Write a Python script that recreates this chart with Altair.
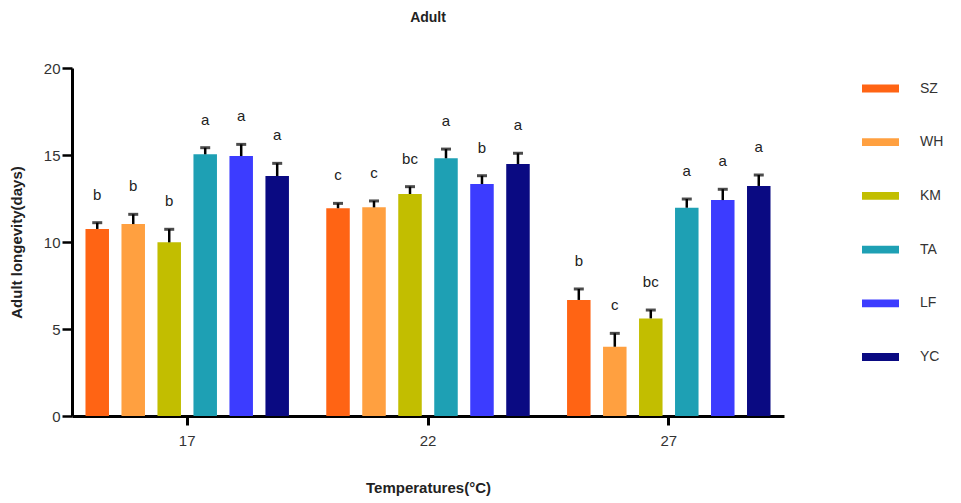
import altair as alt
import pandas as pd

temps = ["17", "22", "27"]
series = ["SZ", "WH", "KM", "TA", "LF", "YC"]
colors = ["#FF6414", "#FFA040", "#C2BE00", "#1EA0B4", "#3C3CFF", "#0A0A82"]

# mean adult longevity (days), per series, for temps 17, 22, 27
means = {
    "SZ": [10.75, 11.94, 6.67],
    "WH": [11.03, 11.99, 3.98],
    "KM": [9.98, 12.76, 5.61],
    "TA": [15.04, 14.81, 11.97],
    "LF": [14.94, 13.33, 12.41],
    "YC": [13.79, 14.48, 13.22],
}
# standard errors
errs = {
    "SZ": [0.36, 0.28, 0.63],
    "WH": [0.56, 0.37, 0.77],
    "KM": [0.75, 0.42, 0.48],
    "TA": [0.38, 0.53, 0.50],
    "LF": [0.67, 0.48, 0.62],
    "YC": [0.73, 0.62, 0.63],
}
letters = {
    "SZ": ["b", "c", "b"],
    "WH": ["b", "c", "c"],
    "KM": ["b", "bc", "bc"],
    "TA": ["a", "a", "a"],
    "LF": ["a", "b", "a"],
    "YC": ["a", "a", "a"],
}

rows = []
for s in series:
    for i, t in enumerate(temps):
        m = means[s][i]
        e = errs[s][i]
        rows.append({"temp": t, "series": s, "mean": m, "upper": m + e, "letter": letters[s][i]})
df = pd.DataFrame(rows)

FONT = "Liberation Sans"

x_enc = alt.X(
    "temp:N",
    sort=temps,
    scale=alt.Scale(paddingInner=0.155, paddingOuter=0.056),
    axis=alt.Axis(
        title="Temperatures(°C)",
        labelAngle=0,
        labelFontSize=15,
        labelColor="#333333",
        labelPadding=8,
        tickSize=9,
        tickWidth=3,
        tickColor="black",
        domainColor="black",
        domainWidth=3,
        titleFontSize=15,
        titleFontWeight="bold",
        titleColor="#222222",
        titlePadding=32,
        labelFont=FONT,
        titleFont=FONT,
    ),
)
xo_enc = alt.XOffset(
    "series:N", sort=series, scale=alt.Scale(paddingInner=0.347, paddingOuter=0)
)

base = alt.Chart(df)

bars = base.mark_bar(stroke=None).encode(
    x=x_enc,
    xOffset=xo_enc,
    y=alt.Y(
        "mean:Q",
        scale=alt.Scale(domain=[0, 20], nice=False),
        axis=alt.Axis(
            title="Adult longevity(days)",
            values=[0, 5, 10, 15, 20],
            grid=False,
            labelFontSize=15,
            labelColor="#333333",
            labelPadding=2,
            tickSize=10,
            tickWidth=2.5,
            tickColor="black",
            domainColor="black",
            domainWidth=3,
            titleFontSize=15,
            titleFontWeight="bold",
            titleColor="#222222",
            titlePadding=19,
            labelFont=FONT,
            titleFont=FONT,
        ),
    ),
    fill=alt.Fill(
        "series:N",
        sort=series,
        scale=alt.Scale(domain=series, range=colors),
        legend=alt.Legend(
            title=None,
            orient="none",
            legendX=790,
            legendY=2,
            symbolType="M-1,-0.21H1V0.21H-1Z",
            symbolSize=1369,
            symbolStrokeWidth=0,
            symbolOpacity=1,
            labelFontSize=14,
            labelColor="#333333",
            labelFont=FONT,
            labelOffset=21,
            rowPadding=27.7,
            padding=0,
        ),
    ),
)

stems = base.mark_rule(color="black", strokeWidth=2.5).encode(
    x=alt.X("temp:N", sort=temps),
    xOffset=xo_enc,
    y="mean:Q",
    y2="upper:Q",
)

caps = base.mark_tick(color="black", thickness=3, size=10).encode(
    x=alt.X("temp:N", sort=temps),
    xOffset=xo_enc,
    y="upper:Q",
)

labels = base.mark_text(
    dy=-23, baseline="alphabetic", fontSize=15, font=FONT, color="#222222"
).encode(
    x=alt.X("temp:N", sort=temps),
    xOffset=xo_enc,
    y="upper:Q",
    text="letter:N",
)

chart = (
    alt.layer(bars, stems, caps, labels)
    .properties(
        width=712,
        height=348,
        title=alt.TitleParams(
            "Adult", fontSize=14, fontWeight="bold", font=FONT, color="#222222", offset=36
        ),
        autosize=alt.AutoSizeParams(type="none"),
        padding={"left": 64, "top": 60, "right": 160, "bottom": 80},
    )
    .configure_view(stroke=None)
)

chart.save("out.html", embed_options={"renderer": "svg", "actions": False})
